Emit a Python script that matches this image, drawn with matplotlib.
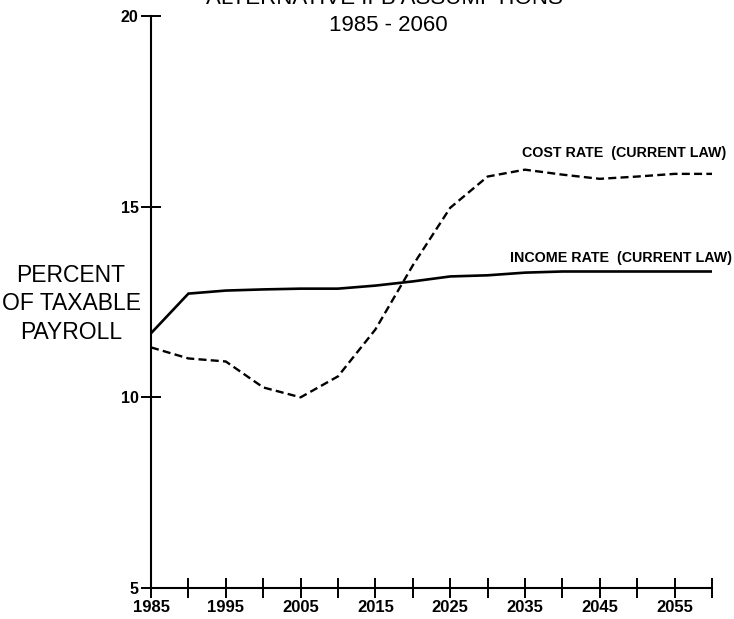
import matplotlib
matplotlib.use("Agg")
import matplotlib.pyplot as plt

years = [1985, 1990, 1995, 2000, 2005, 2010, 2015, 2020, 2025, 2030, 2035, 2040, 2045, 2050, 2055, 2060]
income_rate = [11.68, 12.72, 12.80, 12.83, 12.85, 12.85, 12.93, 13.04, 13.17, 13.20, 13.27, 13.30, 13.30, 13.30, 13.30, 13.30]
cost_rate = [11.31, 11.02, 10.94, 10.26, 10.00, 10.55, 11.78, 13.46, 14.97, 15.79, 15.97, 15.84, 15.73, 15.79, 15.86, 15.86]

y_ticks = [5, 10, 15, 20]
x_ticks = list(range(1985, 2061, 5))
x_labels = [str(y) if (y - 1985) % 10 == 0 else "" for y in x_ticks]

title_lines = ["ALTERNATIVE II-B ASSUMPTIONS", "1985 - 2060"]
ylabel_text = "PERCENT\nOF TAXABLE\nPAYROLL"
cost_label = "COST RATE  (CURRENT LAW)"
income_label = "INCOME RATE  (CURRENT LAW)"

plt.rcParams["font.family"] = ["Liberation Sans", "DejaVu Sans"]

fig = plt.figure(figsize=(7.34, 6.19), dpi=100)
ax = fig.add_axes([151 / 734, 1 - 588 / 619, (712 - 151) / 734, (588 - 16) / 619])

ax.plot(years, income_rate, color="black", lw=1.9, solid_joinstyle="miter")
ax.plot(years, cost_rate, color="black", lw=1.7, linestyle=(0, (3.4, 1.8)))

ax.set_xlim(1985, 2060)
ax.set_ylim(5, 20)
for side in ("top", "right"):
    ax.spines[side].set_visible(False)
for side in ("left", "bottom"):
    ax.spines[side].set_linewidth(1.5)

ax.set_xticks(x_ticks)
ax.set_xticklabels(x_labels, fontsize=12, fontweight="bold")
ax.set_yticks(y_ticks)
ax.set_yticklabels([str(v) for v in y_ticks], fontsize=11.5, fontweight="bold")
ax.tick_params(axis="both", direction="inout", length=14, width=1.4, pad=2)

ax.text(2048.2, 16.30, cost_label, fontsize=10.3, fontweight="bold", ha="center", va="baseline")
ax.text(2047.9, 13.55, income_label, fontsize=10.3, fontweight="bold", ha="center", va="baseline")

fig.text(71 / 734, 1 - 304 / 619, ylabel_text, fontsize=16.5, ha="center", va="center",
         linespacing=1.3)

fig.text(384 / 734, 1 - 4 / 619, title_lines[0], fontsize=16, ha="center", va="baseline")
fig.text(388 / 734, 1 - 31 / 619, title_lines[1], fontsize=16, ha="center", va="baseline")

fig.savefig("out.png", dpi=100)
